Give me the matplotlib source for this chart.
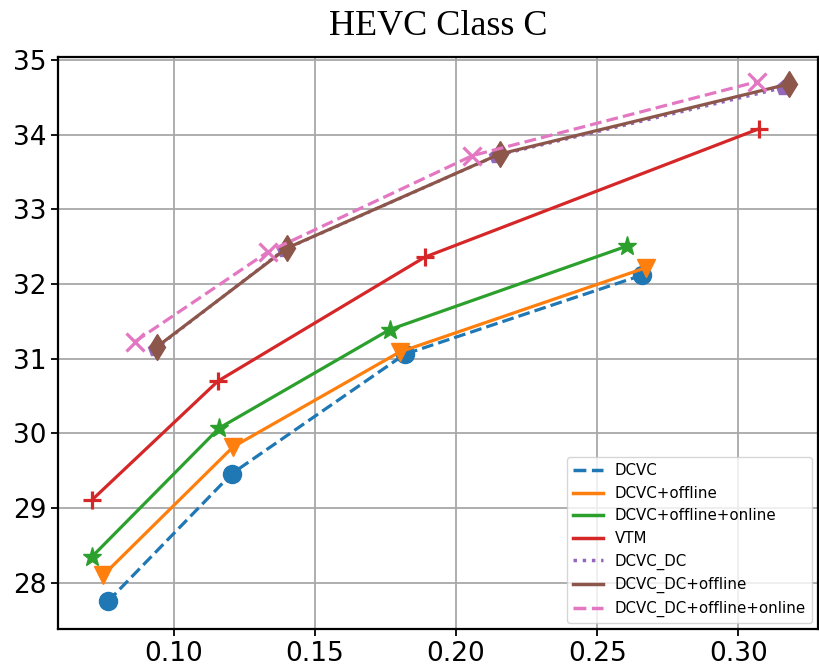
import matplotlib
matplotlib.use("Agg")
import matplotlib.pyplot as plt
from matplotlib.lines import Line2D

title = "HEVC Class C"

dcvc_x = [0.0766, 0.1205, 0.1818, 0.2660]
dcvc_y = [27.75, 29.46, 31.06, 32.12]

off_x = [0.0749, 0.1210, 0.1800, 0.2674]
off_y = [28.10, 29.82, 31.09, 32.22]

onl_x = [0.0710, 0.1160, 0.1765, 0.2607]
onl_y = [28.35, 30.07, 31.39, 32.51]

vtm_x = [0.0710, 0.1156, 0.1889, 0.3074]
vtm_y = [29.11, 30.70, 32.36, 34.08]

dc_x = [0.0933, 0.1390, 0.2143, 0.3160]
dc_y = [31.13, 32.46, 33.72, 34.63]

dcoff_x = [0.0940, 0.1400, 0.2154, 0.3180]
dcoff_y = [31.16, 32.48, 33.74, 34.68]

dconl_x = [0.0862, 0.1333, 0.2058, 0.3067]
dconl_y = [31.23, 32.43, 33.72, 34.71]

labels = ["DCVC", "DCVC+offline", "DCVC+offline+online", "VTM",
          "DCVC_DC", "DCVC_DC+offline", "DCVC_DC+offline+online"]

xticks = [0.10, 0.15, 0.20, 0.25, 0.30]
yticks = [28, 29, 30, 31, 32, 33, 34, 35]

fig = plt.figure(figsize=(8.2, 6.67), dpi=100)
ax = fig.add_axes([0.0707, 0.057, 0.927, 0.8575])

lw = 2.3
ax.plot(dcvc_x, dcvc_y, linestyle="--", marker="o", color="#1f77b4", lw=lw, ms=13, label=labels[0])
ax.plot(off_x, off_y, linestyle="-", marker="v", color="#ff7f0e", lw=lw, ms=13, label=labels[1])
ax.plot(onl_x, onl_y, linestyle="-", marker="*", color="#2ca02c", lw=lw, ms=14, label=labels[2])
ax.plot(vtm_x, vtm_y, linestyle="-", marker="+", color="#d62728", lw=lw, ms=13, mew=2.3, label=labels[3])
ax.plot(dc_x, dc_y, linestyle=":", marker="p", color="#9467bd", lw=lw, ms=11, label=labels[4])
ax.plot(dcoff_x, dcoff_y, linestyle="-", marker="d", color="#8c564b", lw=lw, ms=13, label=labels[5])
ax.plot(dconl_x, dconl_y, linestyle="--", marker="x", color="#e377c2", lw=lw, ms=13, mew=2.3, label=labels[6])

ax.set_xlim(0.0589, 0.3283)
ax.set_ylim(27.38, 35.04)
ax.set_xticks(xticks)
ax.set_xticklabels([f"{v:.2f}" for v in xticks])
ax.set_yticks(yticks)
ax.tick_params(labelsize=19, length=5, width=1.3)
ax.grid(True, color="#a8a8a8", linewidth=1.3)
for s in ax.spines.values():
    s.set_linewidth(1.6)

ax.set_title(title, fontfamily="Liberation Serif", fontsize=26, pad=16)

handles, lbls = ax.get_legend_handles_labels()
leg_handles = [Line2D([], [], color=h.get_color(), linestyle=h.get_linestyle(), lw=2.5) for h in handles]
ax.legend(leg_handles, lbls, loc="lower right", fontsize=10.8, framealpha=0.8,
          borderaxespad=0.4, handlelength=2.0)

fig.savefig("out.png", dpi=100)
